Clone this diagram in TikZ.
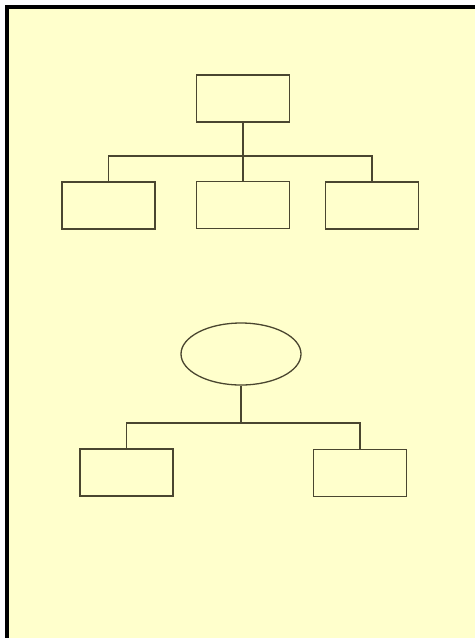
\documentclass[tikz,border=0pt]{standalone}
\usetikzlibrary{shapes.geometric}
\definecolor{bg}{HTML}{FFFFCC}
\definecolor{ink}{HTML}{4A4630}
\begin{document}
\begin{tikzpicture}[x=1pt,y=-1pt,
  box/.style={draw=ink,line width=1.4pt,minimum width=93pt,minimum height=47pt,inner sep=0pt},
  oval/.style={ellipse,draw=ink,line width=1.3pt,minimum width=120pt,minimum height=62pt,inner sep=0pt},
  link/.style={draw=ink,line width=1.3pt}]
\useasboundingbox (0,0) rectangle (475,638);
\fill[white] (0,0) rectangle (475,638);
\fill[bg] (7,7) rectangle (475,638);
\fill[black] (5,5) rectangle (475,9);
\fill[black] (5,5) rectangle (9,638);
% top tree
\node[box] (root) at (243,98.5) {};
\node[box] (c1) at (108.5,205.5) {};
\node[box] (c2) at (243,205) {};
\node[box] (c3) at (372,205.5) {};
\coordinate (bus1) at (243,156);
\draw[link] (root.south) -- (c2.north);
\draw[link] (c1.north) |- (bus1) -| (c3.north);
% bottom tree
\node[oval] (el) at (241,354) {};
\node[box] (d1) at (126.5,472.5) {};
\node[box] (d2) at (360,473) {};
\coordinate (bus2) at (241,423);
\draw[link] (el.south) -- (bus2);
\draw[link] (d1.north) |- (bus2) -| (d2.north);
\end{tikzpicture}
\end{document}
